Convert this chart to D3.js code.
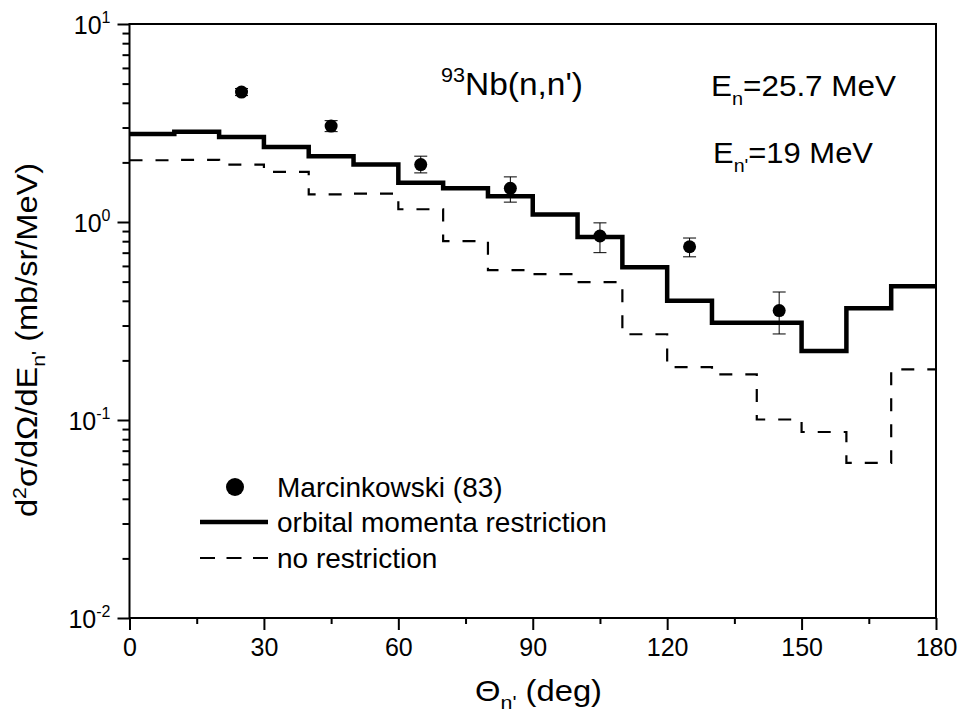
<!DOCTYPE html>
<html>
<head>
<meta charset="utf-8">
<script src="https://cdn.jsdelivr.net/npm/d3@7"></script>
<style>
  body { margin: 0; background: #fff; }
  svg text { font-family: "Liberation Sans", Arial, sans-serif; fill: #000; }
</style>
</head>
<body>
<div id="chart"></div>
<script>
// data
var binStart = [0, 10, 20, 30, 40, 50, 60, 70, 80, 90, 100, 110, 120, 130, 140, 150, 160, 170];
var binWidth = 10;
var restricted = [2.78, 2.86, 2.69, 2.39, 2.15, 1.95, 1.58, 1.48, 1.35, 1.09, 0.84, 0.59, 0.40, 0.31, 0.31, 0.223, 0.367, 0.474];
var noRestriction = [2.05, 2.06, 1.95, 1.79, 1.38, 1.39, 1.16, 0.80, 0.571, 0.545, 0.497, 0.271, 0.185, 0.170, 0.1006, 0.087, 0.0607, 0.180];
var expAngle = [25, 45, 65, 85, 105, 125, 145];
var expValue = [4.53, 3.05, 1.95, 1.48, 0.85, 0.75, 0.357];
var expLow = [4.35, 2.86, 1.77, 1.26, 0.70, 0.667, 0.272];
var expHigh = [4.72, 3.25, 2.15, 1.69, 0.99, 0.83, 0.443];
var xTicks = [0, 30, 60, 90, 120, 150, 180];
var xMinor = [15, 45, 75, 105, 135, 165];
var yDecades = [-2, -1, 0, 1];
var legendLabels = ["Marcinkowski (83)", "orbital momenta restriction", "no restriction"];

var W = 964, H = 712;
var margin = {left: 129.5, right: 936, top: 24, bottom: 618};

var svg = d3.select("#chart").append("svg")
    .attr("width", W)
    .attr("height", H);

var x = d3.scaleLinear().domain([0, 180]).range([margin.left, margin.right]);
var y = d3.scaleLog().domain([0.01, 10]).range([margin.bottom, margin.top]);

// steps: add the right edge of the last bin
function stepData(vals) {
  var pts = binStart.map(function(b, i) { return [b, vals[i]]; });
  pts.push([binStart[binStart.length - 1] + binWidth, vals[vals.length - 1]]);
  return pts;
}
var step = d3.line()
    .x(function(d) { return x(d[0]); })
    .y(function(d) { return y(d[1]); })
    .curve(d3.curveStepAfter);

svg.append("path")
    .attr("d", step(stepData(noRestriction)))
    .attr("fill", "none")
    .attr("stroke", "#000")
    .attr("stroke-width", 2.2)
    .attr("stroke-dasharray", "13,13");

svg.append("path")
    .attr("d", step(stepData(restricted)))
    .attr("fill", "none")
    .attr("stroke", "#000")
    .attr("stroke-width", 4.5);

// experimental points
var pts = svg.append("g");
expAngle.forEach(function(a, i) {
  var cx = x(a);
  pts.append("line").attr("x1", cx).attr("x2", cx)
     .attr("y1", y(expLow[i])).attr("y2", y(expHigh[i]))
     .attr("stroke", "#000").attr("stroke-width", 1);
  [expLow[i], expHigh[i]].forEach(function(v) {
    pts.append("line").attr("x1", cx - 6.5).attr("x2", cx + 6.5)
       .attr("y1", y(v)).attr("y2", y(v))
       .attr("stroke", "#000").attr("stroke-width", 1);
  });
  pts.append("circle").attr("cx", cx).attr("cy", y(expValue[i])).attr("r", 6.5).attr("fill", "#000");
});

// frame
svg.append("rect")
    .attr("x", margin.left).attr("y", margin.top)
    .attr("width", margin.right - margin.left).attr("height", margin.bottom - margin.top)
    .attr("fill", "none").attr("stroke", "#000").attr("stroke-width", 2);

// x axis
var xAxis = d3.axisBottom(x).tickValues(xTicks).tickSize(12).tickPadding(8).tickFormat(d3.format("d"));
var gx = svg.append("g").attr("transform", "translate(0," + margin.bottom + ")").call(xAxis);
gx.select(".domain").remove();
gx.selectAll("line").attr("stroke-width", 2);
gx.selectAll("text").attr("font-size", 25).attr("font-family", "Liberation Sans, Arial, sans-serif");
var gxm = svg.append("g").attr("transform", "translate(0," + margin.bottom + ")")
    .call(d3.axisBottom(x).tickValues(xMinor).tickSize(6).tickFormat(""));
gxm.select(".domain").remove();
gxm.selectAll("line").attr("stroke-width", 2);

// y axis
var minorY = [];
yDecades.slice(0, 3).forEach(function(e) {
  for (var k = 2; k <= 9; k++) minorY.push(k * Math.pow(10, e));
});
var gym = svg.append("g").attr("transform", "translate(" + margin.left + ",0)")
    .call(d3.axisLeft(y).tickValues(minorY).tickSize(7).tickFormat(""));
gym.select(".domain").remove();
gym.selectAll("line").attr("stroke-width", 2);
var gy = svg.append("g").attr("transform", "translate(" + margin.left + ",0)")
    .call(d3.axisLeft(y).tickValues(yDecades.map(function(e) { return Math.pow(10, e); })).tickSize(12).tickFormat(""));
gy.select(".domain").remove();
gy.selectAll("line").attr("stroke-width", 2);
gy.selectAll(".tick").each(function(d, i) {
  var t = d3.select(this).append("text")
      .attr("x", -19).attr("dy", 9)
      .attr("text-anchor", "end")
      .attr("font-size", 25).attr("font-family", "Liberation Sans, Arial, sans-serif");
  t.append("tspan").text("10");
  t.append("tspan").attr("dy", -11).attr("font-size", 16).text(String(yDecades[i]));
});

// axis titles (the reference font is a bit wider, so stretch to its length)
var xt = svg.append("text").attr("x", 475).attr("y", 701)
    .attr("font-size", 29)
    .attr("textLength", 127).attr("lengthAdjust", "spacingAndGlyphs");
xt.append("tspan").text("\u0398");
xt.append("tspan").attr("dy", 8).attr("font-size", 19).text("n'");
xt.append("tspan").attr("dy", -8).text(" (deg)");

var yt = svg.append("text")
    .attr("transform", "translate(37,517) rotate(-90)")
    .attr("font-size", 29)
    .attr("textLength", 354).attr("lengthAdjust", "spacingAndGlyphs");
yt.append("tspan").text("d");
yt.append("tspan").attr("dy", -11).attr("font-size", 19).text("2");
yt.append("tspan").attr("dy", 11).text("\u03c3/d\u03a9/dE");
yt.append("tspan").attr("dy", 8).attr("font-size", 19).text("n'");
yt.append("tspan").attr("dy", -8).text(" (mb/sr/MeV)");

// annotations
var a1 = svg.append("text").attr("x", 441).attr("y", 95).attr("font-size", 31)
    .attr("textLength", 142).attr("lengthAdjust", "spacingAndGlyphs");
a1.append("tspan").attr("dy", -13).attr("font-size", 20).text("93");
a1.append("tspan").attr("dy", 13).text("Nb(n,n')");

var a2 = svg.append("text").attr("x", 711).attr("y", 96).attr("font-size", 30)
    .attr("textLength", 185).attr("lengthAdjust", "spacingAndGlyphs");
a2.append("tspan").text("E");
a2.append("tspan").attr("dy", 9).attr("font-size", 19).text("n");
a2.append("tspan").attr("dy", -9).text("=25.7 MeV");

var a3 = svg.append("text").attr("x", 713).attr("y", 163).attr("font-size", 30)
    .attr("textLength", 160).attr("lengthAdjust", "spacingAndGlyphs");
a3.append("tspan").text("E");
a3.append("tspan").attr("dy", 9).attr("font-size", 19).text("n'");
a3.append("tspan").attr("dy", -9).text("=19 MeV");

// legend
var leg = svg.append("g");
var legY = [487, 522, 558];
leg.append("circle").attr("cx", 235).attr("cy", legY[0]).attr("r", 9).attr("fill", "#000");
leg.append("line").attr("x1", 200).attr("x2", 268).attr("y1", legY[1]).attr("y2", legY[1])
   .attr("stroke", "#000").attr("stroke-width", 4.5);
leg.append("line").attr("x1", 200).attr("x2", 268).attr("y1", legY[2]).attr("y2", legY[2])
   .attr("stroke", "#000").attr("stroke-width", 2.2).attr("stroke-dasharray", "15,11.5");
legendLabels.forEach(function(l, i) {
  leg.append("text").attr("x", 277).attr("y", legY[i] + 10).attr("font-size", 28).text(l);
});
</script>
</body>
</html>
